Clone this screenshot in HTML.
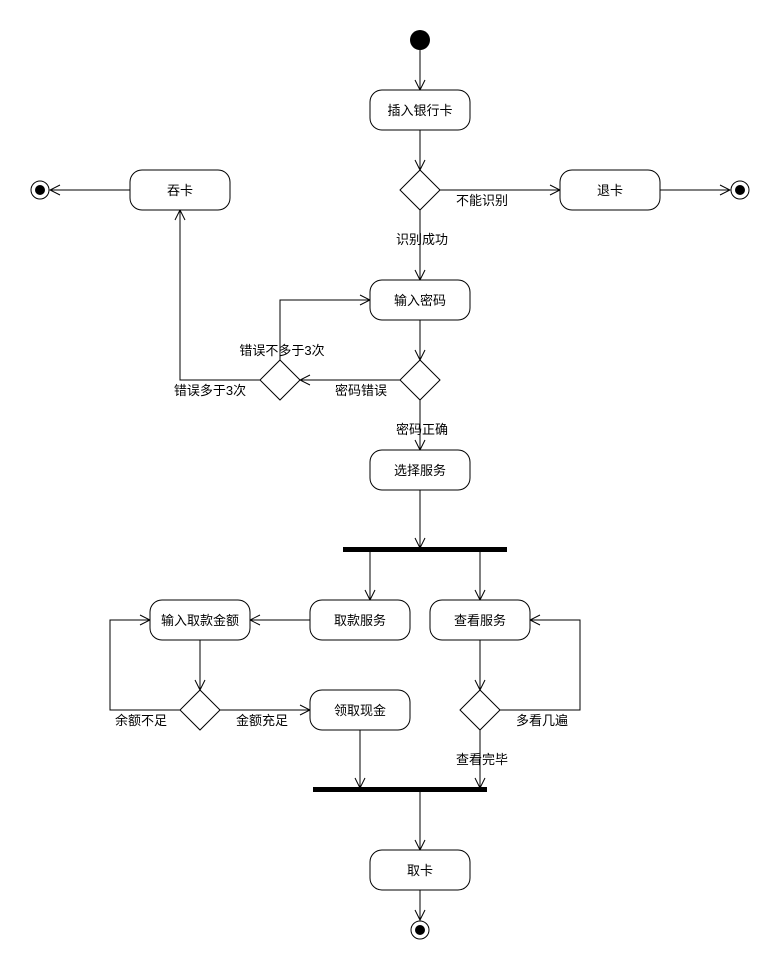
<!DOCTYPE html>
<html><head><meta charset="utf-8"><style>html,body{margin:0;padding:0;background:#fff}svg{display:block}text{font-family:"Liberation Sans","Noto Sans CJK SC",sans-serif;font-size:13px;fill:#000}</style></head><body>
<svg width="770" height="960" viewBox="0 0 770 960" xmlns="http://www.w3.org/2000/svg">
<defs><marker id="a" markerWidth="12" markerHeight="12" refX="11" refY="6" orient="auto" markerUnits="userSpaceOnUse"><path d="M1,1 L11,6 L1,11" fill="none" stroke="#000" stroke-width="1"/></marker></defs>
<g fill="none" stroke="#000" stroke-width="1">
<path d="M420,50V90" marker-end="url(#a)"/>
<path d="M420,130V170" marker-end="url(#a)"/>
<path d="M440,190H560" marker-end="url(#a)"/>
<path d="M660,190H730" marker-end="url(#a)"/>
<path d="M420,210V280" marker-end="url(#a)"/>
<path d="M420,320V360" marker-end="url(#a)"/>
<path d="M400,380H300" marker-end="url(#a)"/>
<path d="M280,360V300H370" marker-end="url(#a)"/>
<path d="M260,380H180V210" marker-end="url(#a)"/>
<path d="M130,190H50" marker-end="url(#a)"/>
<path d="M420,400V450" marker-end="url(#a)"/>
<path d="M420,490V548" marker-end="url(#a)"/>
<path d="M370,552V600" marker-end="url(#a)"/>
<path d="M480,552V600" marker-end="url(#a)"/>
<path d="M310,620H250" marker-end="url(#a)"/>
<path d="M200,640V690" marker-end="url(#a)"/>
<path d="M220,710H310" marker-end="url(#a)"/>
<path d="M180,710H110V620H150" marker-end="url(#a)"/>
<path d="M480,640V690" marker-end="url(#a)"/>
<path d="M500,710H580V620H530" marker-end="url(#a)"/>
<path d="M480,730V788" marker-end="url(#a)"/>
<path d="M360,730V788" marker-end="url(#a)"/>
<path d="M420,792V850" marker-end="url(#a)"/>
<path d="M420,890V920" marker-end="url(#a)"/>
<rect x="370" y="90" width="100" height="40" rx="12" fill="#fff"/>
<rect x="560" y="170" width="100" height="40" rx="12" fill="#fff"/>
<rect x="130" y="170" width="100" height="40" rx="12" fill="#fff"/>
<rect x="370" y="280" width="100" height="40" rx="12" fill="#fff"/>
<rect x="370" y="450" width="100" height="40" rx="12" fill="#fff"/>
<rect x="150" y="600" width="100" height="40" rx="12" fill="#fff"/>
<rect x="310" y="600" width="100" height="40" rx="12" fill="#fff"/>
<rect x="430" y="600" width="100" height="40" rx="12" fill="#fff"/>
<rect x="310" y="690" width="100" height="40" rx="12" fill="#fff"/>
<rect x="370" y="850" width="100" height="40" rx="12" fill="#fff"/>
<path d="M420,170L440,190L420,210L400,190Z" fill="#fff"/>
<path d="M420,360L440,380L420,400L400,380Z" fill="#fff"/>
<path d="M280,360L300,380L280,400L260,380Z" fill="#fff"/>
<path d="M200,690L220,710L200,730L180,710Z" fill="#fff"/>
<path d="M480,690L500,710L480,730L460,710Z" fill="#fff"/>
<circle cx="740" cy="190" r="9" fill="#fff"/>
<circle cx="40" cy="190" r="9" fill="#fff"/>
<circle cx="420" cy="930" r="9" fill="#fff"/>
</g>
<circle cx="420" cy="40" r="10" fill="#000"/>
<circle cx="740" cy="190" r="5" fill="#000"/>
<circle cx="40" cy="190" r="5" fill="#000"/>
<circle cx="420" cy="930" r="5" fill="#000"/>
<rect x="343" y="547" width="164" height="5" fill="#000"/>
<rect x="313" y="787" width="174" height="5" fill="#000"/>
<g text-anchor="middle">
<text x="420" y="115">插入银行卡</text>
<text x="610" y="195">退卡</text>
<text x="180" y="195">吞卡</text>
<text x="420" y="305">输入密码</text>
<text x="420" y="475">选择服务</text>
<text x="200" y="625">输入取款金额</text>
<text x="360" y="625">取款服务</text>
<text x="480" y="625">查看服务</text>
<text x="360" y="715">领取现金</text>
<text x="420" y="875">取卡</text>
<text x="482" y="205">不能识别</text>
<text x="422" y="244">识别成功</text>
<text x="361" y="395">密码错误</text>
<text x="282" y="355">错误不多于3次</text>
<text x="210" y="395">错误多于3次</text>
<text x="422" y="434">密码正确</text>
<text x="262" y="725">金额充足</text>
<text x="141" y="725">余额不足</text>
<text x="542" y="725">多看几遍</text>
<text x="482" y="764">查看完毕</text>
</g>
</svg>
</body></html>
